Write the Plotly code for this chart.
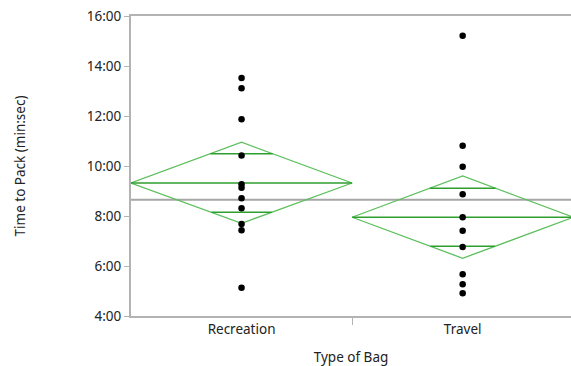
import plotly.graph_objects as go

categories = ["Recreation", "Travel"]
recreation_times = [13.52, 13.11, 11.87, 10.42, 9.27, 9.13, 8.71, 8.31, 7.68, 7.43, 5.13]
travel_times = [15.21, 10.81, 9.97, 8.87, 7.95, 7.41, 6.76, 5.67, 5.27, 4.91]
group_means = [9.32, 7.95]
ci_lower = [7.71, 6.31]
ci_upper = [10.95, 9.60]
overlap_upper = [10.49, 9.11]
overlap_lower = [8.15, 6.79]
grand_mean = 8.65
y_tick_minutes = [4, 6, 8, 10, 12, 14, 16]
y_tick_labels = ["4:00", "6:00", "8:00", "10:00", "12:00", "14:00", "16:00"]

FONT = "Noto Sans"
FS = 13.5
DIAMOND = "#5cbf5c"
MEANLINE = "#2e9e2e"
TXT = "#222222"

fig = go.Figure()

# grand mean line
fig.add_trace(go.Scatter(x=[-0.5, len(categories) - 0.5], y=[grand_mean, grand_mean],
                         mode="lines", line=dict(color="#a6a6a6", width=2),
                         hoverinfo="skip", showlegend=False))

for i, cat in enumerate(categories):
    m, lo, hi = group_means[i], ci_lower[i], ci_upper[i]
    # diamond
    fig.add_trace(go.Scatter(x=[i - 0.5, i, i + 0.5, i, i - 0.5], y=[m, hi, m, lo, m],
                             mode="lines", line=dict(color=DIAMOND, width=1.3),
                             hoverinfo="skip", showlegend=False))
    # mean line
    fig.add_trace(go.Scatter(x=[i - 0.5, i + 0.5], y=[m, m], mode="lines",
                             line=dict(color=MEANLINE, width=1.3),
                             hoverinfo="skip", showlegend=False))
    # overlap marks
    for ov, half in ((overlap_upper[i], hi - m), (overlap_lower[i], m - lo)):
        w = 0.5 * (1 - abs(ov - m) / half)
        fig.add_trace(go.Scatter(x=[i - w, i + w], y=[ov, ov], mode="lines",
                                 line=dict(color=MEANLINE, width=1.3),
                                 hoverinfo="skip", showlegend=False))

for i, vals in enumerate([recreation_times, travel_times]):
    fig.add_trace(go.Scatter(x=[i] * len(vals), y=vals, mode="markers",
                             marker=dict(color="black", size=6.5),
                             name=categories[i], showlegend=False))

fig.update_layout(
    width=571, height=366,
    margin=dict(l=131, r=0, t=16, b=50),
    paper_bgcolor="white", plot_bgcolor="white",
    font=dict(family=FONT, size=FS, color=TXT),
    showlegend=False,
)
fig.update_xaxes(
    range=[-0.5, 1.49], tickmode="array", tickvals=list(range(len(categories))),
    ticktext=categories, ticks="", showgrid=False, zeroline=False, automargin=False,
    showline=True, linecolor="#b3b3b3", linewidth=2, mirror=True,
    minor=dict(tickmode="array", tickvals=[0.5], ticks="outside", ticklen=7,
               tickcolor="#b3b3b3", tickwidth=1, showgrid=False),
    tickfont=dict(size=FS, color=TXT),
    title=dict(text="Type of Bag", standoff=18, font=dict(size=FS, color=TXT)),
)
fig.update_yaxes(
    range=[4, 16], tickmode="array", tickvals=y_tick_minutes, ticktext=y_tick_labels,
    ticks="outside", ticklen=5, tickcolor="#b3b3b3", showgrid=False, zeroline=False,
    automargin=False, ticklabeloverflow="allow",
    showline=True, linecolor="#b3b3b3", linewidth=2,
    tickfont=dict(size=FS, color=TXT),
    title=dict(text="Time to Pack (min:sec)", standoff=58, font=dict(size=FS, color=TXT)),
)

# remove the browser's default 8px body margin so the figure fills the window
fig.write_html("out.html", config={"displayModeBar": False},
               post_script="document.body.style.margin='0';")
